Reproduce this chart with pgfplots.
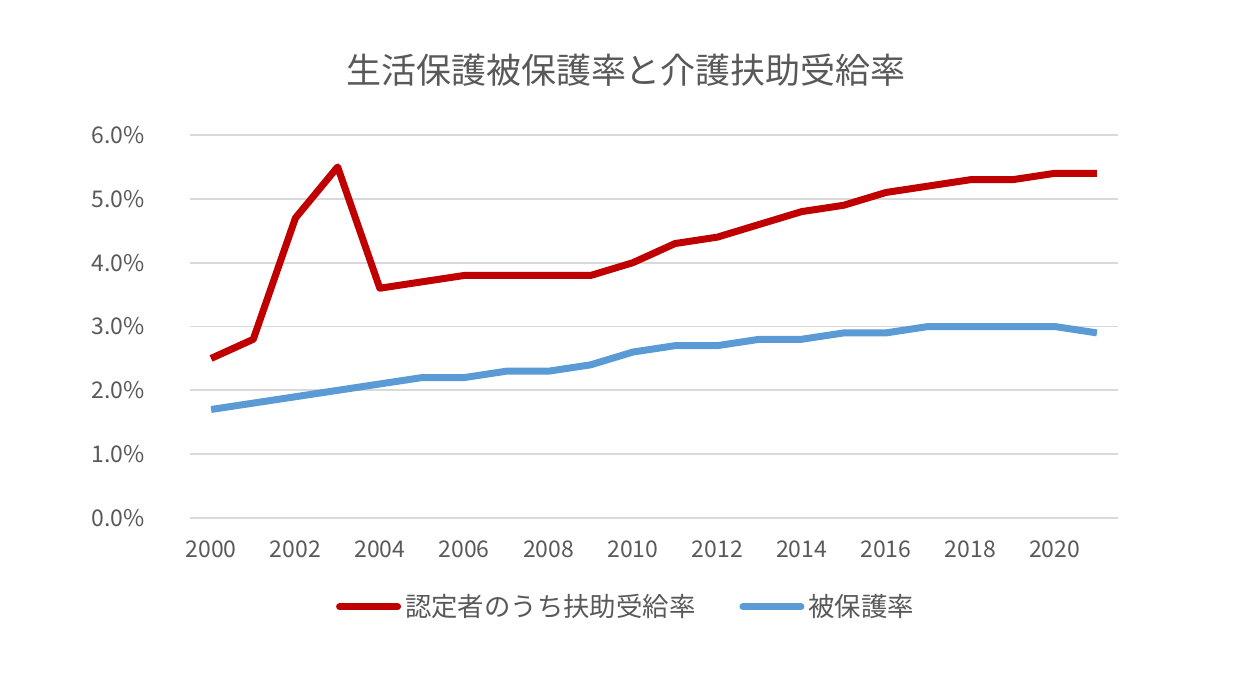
\documentclass[border=0pt]{standalone}
\usepackage{fontspec}
\setmainfont{Noto Sans CJK JP}
\usepackage{pgfplots}
\pgfplotsset{compat=1.18}
\usepackage{pgfplotstable}

\definecolor{txtgray}{HTML}{595959}
\definecolor{gridgray}{HTML}{D9D9D9}
\definecolor{serred}{HTML}{C00000}
\definecolor{serblue}{HTML}{5B9BD5}

% year, 認定者のうち扶助受給率 (%), 被保護率 (%)
\pgfplotstableread{
year fujo hogo
2000 2.5 1.7
2001 2.8 1.8
2002 4.7 1.9
2003 5.5 2.0
2004 3.6 2.1
2005 3.7 2.2
2006 3.8 2.2
2007 3.8 2.3
2008 3.8 2.3
2009 3.8 2.4
2010 4.0 2.6
2011 4.3 2.7
2012 4.4 2.7
2013 4.6 2.8
2014 4.8 2.8
2015 4.9 2.9
2016 5.1 2.9
2017 5.2 3.0
2018 5.3 3.0
2019 5.3 3.0
2020 5.4 3.0
2021 5.4 2.9
}\rates

\begin{document}
\begin{tikzpicture}
    \useasboundingbox (-95pt,-82pt) rectangle (532pt,259pt);
    \begin{axis}[
        at={(0,0)},
        anchor=south west,
        scale only axis,
        width=464pt,
        height=191.5pt,
        xmin=1999.5, xmax=2021.5,
        ymin=0, ymax=6,
        xtick={2000,2002,...,2020},
        xticklabels={2000,2002,2004,2006,2008,2010,2012,2014,2016,2018,2020},
        ytick={0,1,...,6},
        yticklabels={0.0\%,1.0\%,2.0\%,3.0\%,4.0\%,5.0\%,6.0\%},
        ymajorgrids=true,
        major grid style={line width=0.9pt,draw=gridgray},
        axis line style={draw=none},
        major tick length=0pt,
        ticklabel style={font=\fontsize{11.5}{13}\selectfont, text=txtgray},
        xticklabel style={yshift=-8pt},
        yticklabel style={xshift=-19pt},
        legend columns=2,
        legend style={
            at={(0.471,-0.232)},
            anchor=center,
            draw=none,
            fill=none,
            font=\fontsize{13.2}{15}\selectfont,
            text=txtgray,
            /tikz/every even column/.append style={column sep=20pt},
        },
        legend image code/.code={
            \draw[#1, line cap=round] (0pt,0pt) -- (29pt,0pt);
        },
        every axis plot/.append style={line width=3.5pt, line join=round},
    ]

    \addplot[color=serred, mark=none] table[x=year, y=fujo] {\rates};
    \addlegendentry{認定者のうち扶助受給率}

    \addplot[color=serblue, mark=none] table[x=year, y=hogo] {\rates};
    \addlegendentry{被保護率}

    \end{axis}
    \node[text=txtgray, font=\fontsize{17.5}{20}\selectfont] at (218pt,224pt)
        {生活保護被保護率と介護扶助受給率};
\end{tikzpicture}
\end{document}
